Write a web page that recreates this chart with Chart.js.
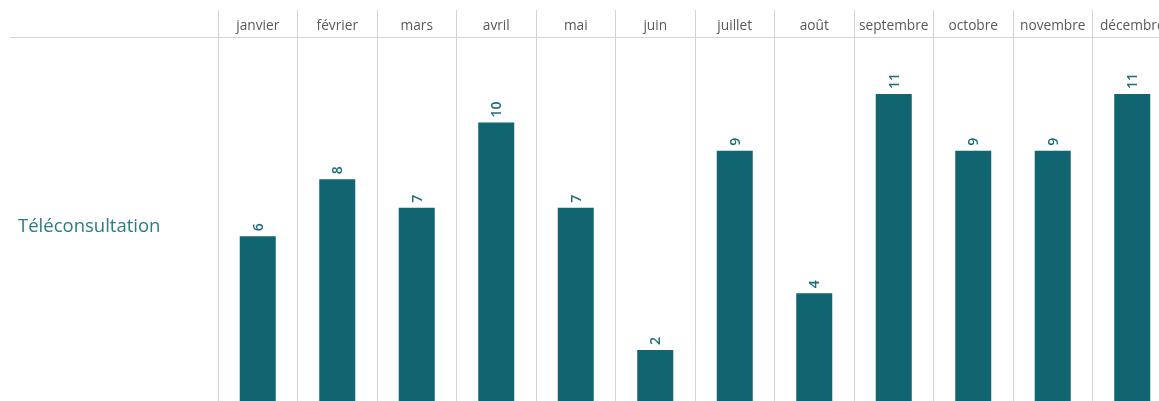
<!DOCTYPE html>
<html lang="fr">
<head>
<meta charset="utf-8">
<script src="https://cdn.jsdelivr.net/npm/chart.js@4/dist/chart.umd.min.js"></script>
<style>
  html, body { margin: 0; padding: 0; background: #fff; overflow: hidden; }
  #wrap { width: 1159px; height: 401px; overflow: hidden; position: relative; }
  canvas { display: block; }
</style>
</head>
<body>
<div id="wrap"><canvas id="c" width="1172" height="410"></canvas></div>
<script>
// Monthly teleconsultation counts
const months = ['janvier', 'février', 'mars', 'avril', 'mai', 'juin',
                'juillet', 'août', 'septembre', 'octobre', 'novembre', 'décembre'];
const teleconsultations = [6, 8, 7, 10, 7, 2, 9, 4, 11, 9, 9, 11];
const seriesName = 'Téléconsultation';

const TEAL = '#106570';
const GRID = '#d4d4d4';

// Row label on the left, header rule, and rotated value labels above the bars
const decorations = {
  id: 'decorations',
  afterDraw(chart) {
    const ctx = chart.ctx;
    const area = chart.chartArea;
    ctx.save();
    // header rule under the month names
    ctx.strokeStyle = GRID;
    ctx.lineWidth = 1;
    ctx.beginPath();
    ctx.moveTo(10, area.top + 0.5);
    ctx.lineTo(chart.width, area.top + 0.5);
    ctx.stroke();
    // series name
    ctx.fillStyle = '#2a7d88';
    ctx.font = '18.5px "Open Sans", sans-serif';
    ctx.textAlign = 'left';
    ctx.textBaseline = 'middle';
    ctx.fillText(seriesName, 18, 227);
    // value labels, reading upwards from just above each bar
    const meta = chart.getDatasetMeta(0);
    ctx.fillStyle = '#1d6d78';
    ctx.font = '600 14px "Open Sans", sans-serif';
    meta.data.forEach((bar, i) => {
      ctx.save();
      ctx.translate(bar.x + 1, bar.y - 5);
      ctx.rotate(-Math.PI / 2);
      ctx.textAlign = 'left';
      ctx.textBaseline = 'middle';
      ctx.fillText(String(teleconsultations[i]), 0, 0);
      ctx.restore();
    });
    ctx.restore();
  }
};

new Chart(document.getElementById('c'), {
  type: 'bar',
  data: {
    labels: months,
    datasets: [{
      label: seriesName,
      data: teleconsultations,
      backgroundColor: TEAL,
      borderWidth: 0,
      categoryPercentage: 1,
      barPercentage: 0.453
    }]
  },
  options: {
    responsive: false,
    animation: false,
    devicePixelRatio: 1,
    layout: { padding: { left: 218, top: 10, right: 0, bottom: 3 } },
    plugins: { legend: { display: false }, tooltip: { enabled: false } },
    scales: {
      x: {
        position: 'top',
        border: { display: false },
        grid: { color: GRID, lineWidth: 1, tickLength: 27, offset: true },
        ticks: {
          color: '#595959',
          font: { family: '"Open Sans", sans-serif', size: 13.7 },
          padding: -24,
          maxRotation: 0,
          autoSkip: false
        },
        afterFit(scale) { scale.height = 27; }
      },
      y: {
        display: false,
        min: 0,
        max: 13
      }
    }
  },
  plugins: [decorations]
});
</script>
</body>
</html>
